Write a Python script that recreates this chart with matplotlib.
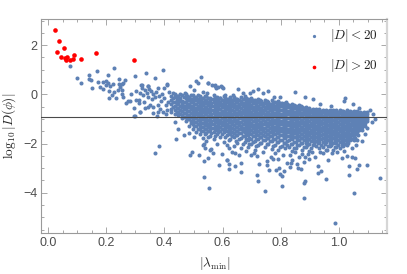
import numpy as np
import matplotlib
matplotlib.use("Agg")
import matplotlib.pyplot as plt
from matplotlib.ticker import MultipleLocator, FixedLocator, FuncFormatter

plt.rcParams['mathtext.fontset'] = 'cm'
plt.rcParams['font.family'] = ['Liberation Sans', 'DejaVu Sans']

BLUE = '#5E81B5'
GREY = '#9a9a9a'
TXT = '#4d4d4d'

threshold = -0.935

red_lam = [.022, .036, .053, .029, .043, .057, .065, .060, .074, .083, .088, .111, .164, .296]
red_log = [2.60, 2.15, 1.89, 1.72, 1.52, 1.46, 1.50, 1.38, 1.38, 1.42, 1.60, 1.42, 1.67, 1.39]

upper_pts = [
 (.073,1.16),(.099,.67),(.113,.46),(.139,.80),(.141,.62),(.146,.58),(.149,.27),(.166,.93),(.171,.49),(.178,.30),
 (.204,.77),(.227,1.07),(.242,.61),(.265,.58),(.255,.42),(.297,.74),(.335,.87),(.367,.65),(.395,1.0),(.408,.39),
 (.189,.22),(.189,.51),(.2,.54),(.206,.45),(.212,.34),(.198,.38),(.221,.42),(.209,.15),(.218,-.03),(.209,-.16),
 (.233,-.15),(.226,.11),(.241,.17),(.252,.17),(.243,.42),(.256,.45),(.247,.31),(.252,0),(.256,-.1),(.283,.01),
 (.267,-.34),(.273,-.26),(.281,-.26),(.294,-.57),(.297,-.89),(.314,-.72),(.301,-.23),(.302,.13),(.312,-.23),
 (.316,.04),(.321,.24),(.321,.38),(.344,.34),(.333,.17),(.339,.04),(.327,-.03),(.344,-.1),(.334,-.57),(.344,-.5),
 (.313,-.37),(.329,-.3),(.319,.38),(.344,.35),(.379,.24),(.399,.24),(.408,.41),(.43,.04),(.453,.01),(.471,.07),
 (.489,.35),(.507,.55),(.517,.47),(.525,.72),(.549,.47),(.563,.38),(.574,.34),(.594,.34),(.603,.24),(.503,.17),
 (.545,.04),(.578,.24),(.361,-.77),(.373,-.88),(.404,-.81),(.316,-.73),(.296,-.88),(.55,.47),(.574,.37),(.586,.28),
 (.597,.31),(.655,.2),(.722,.2),(.758,.13),(.741,.04),(.706,.13),(.851,.08),(.886,-.11),(.913,-.19),(1.022,-.16),
 (1.019,-.27),(1.051,-.41),(.973,-.48),(.936,-.41),(.798,-.1),(.778,-.12),(.819,-.3),(.637,-.03),(.672,.04),
 (.695,.04),(.626,-.1),(.61,-.02),(.59,-.15),(1.072,-.54),(1.109,-.64),(1.12,-.8),(1.126,-1.02),(1.114,-1.11),
 (.345,.21),(.352,.12),(.36,.02),(.356,-.2),(.366,-.12),(.372,.1),(.381,-.05),(.387,-.28),(.376,-.42),(.392,.02),
 (.398,-.16),(.404,-.45),(.386,-.6),(.396,-.7),(.412,-.3),(.416,.1),(.35,-.42),(.362,-.5),(.378,-.7),(.41,-.62),
]

lower_pts = [
 (.436,-1.11),(.448,-1.41),(.44,-1.83),(.468,-1.67),(.486,-1.59),(.5,-1.72),(.491,-1.18),(.367,-2.39),(.381,-2.09),
 (.489,-2.45),(.494,-2.35),(.52,-2.47),(.535,-2.70),(.549,-2.59),(.535,-3.36),(.552,-3.82),(.589,-2.86),(.597,-2.44),
 (.617,-2.67),(.622,-2.83),(.621,-3.04),(.643,-2.90),(.665,-2.79),(.663,-3.16),(.719,-3.28),(.724,-3.54),(.632,-2.33),
 (.644,-2.40),(.658,-2.47),(.566,-2.39),(.557,-2.25),(.537,-2.03),(.539,-2.18),(.697,-2.45),(.72,-2.49),(.727,-2.83),
 (.745,-3.94),(.752,-2.70),(.752,-2.89),(.762,-3.09),(.783,-3.06),(.795,-3.0),(.799,-3.23),(.806,-3.32),(.811,-3.13),
 (.805,-3.71),(.823,-2.79),(.832,-2.96),(.836,-2.81),(.856,-2.82),(.861,-2.98),(.872,-3.02),(.88,-2.76),(.88,-3.62),
 (.886,-3.51),(.88,-4.22),(.899,-2.63),(.919,-2.55),(.929,-2.93),(.93,-3.19),(.94,-3.11),(.958,-3.44),(.965,-2.66),
 (.988,-5.22),(1.035,-2.93),(1.037,-3.27),(1.052,-4.03),(1.064,-3.05),(1.07,-2.89),(1.097,-2.87),(1.143,-3.40),
 (1.013,-2.59),(1.028,-2.49),(1.045,-2.53),(1.057,-2.6),(1.08,-1.9),(1.06,-2.06),(.767,-2.54),(.775,-2.64),(.792,-2.64),
 (.833,-2.47),(.839,-2.67),(.865,-2.54),(.896,-2.44),(.884,-2.56),(.948,-2.40),(.979,-2.40),(1.097,-1.38),(1.092,-1.63),
 (1.068,-1.65),(1.063,-1.86),(.559,-2.24),(.534,-2.06),(.614,-2.67),(.622,-2.2),(.68,-2.3),(.71,-2.38),(.74,-2.36),
 (.78,-2.4),(.81,-2.45),(.85,-2.36),(.875,-2.42),(.91,-2.36),(.935,-2.34),(.96,-2.28),(.995,-2.34),(1.02,-2.3),(1.045,-2.2),
]

core_lam = [.424,.437,.448,.461,.473,.484,.497,.508,.521,.533,.544,.556,.569,.58,.592,.604,.616,.627,.64,.651,
            .663,.676,.687,.699,.711,.723,.734,.746,.758,.77,.781,.793,.805,.816,.829,.84,.852,.864,.875,.887,
            .899,.911,.922,.934,.946,.957,.97,.981,.993,1.005,1.016,1.028,1.04,1.052,1.063,1.075,1.087,1.098]
core_log = [
 [-.05,-.22,-.41,-.58,-.71],
 [.02,-.12,-.31,-.47,-.62,-.8],
 [-.08,-.19,-.36,-.55,-.7,-.86],
 [-.03,-.26,-.4,-.52,-.67,-.83,-.98],
 [.03,-.15,-.33,-.46,-.6,-.77,-.92,-1.08],
 [-.09,-.24,-.38,-.53,-.69,-.84,-1.0,-1.27],
 [-.02,-.18,-.31,-.47,-.62,-.75,-.9,-1.05,-1.22,-1.42],
 [-.1,-.25,-.41,-.55,-.68,-.82,-.97,-1.13,-1.3,-1.52],
 [-.05,-.2,-.34,-.5,-.63,-.79,-.93,-1.07,-1.24,-1.38,-1.62],
 [.1,-.14,-.3,-.44,-.58,-.72,-.87,-1.02,-1.18,-1.33,-1.49,-1.78],
 [-.06,-.22,-.37,-.53,-.66,-.8,-.95,-1.11,-1.26,-1.4,-1.58,-1.9],
 [-.13,-.28,-.42,-.56,-.71,-.85,-1.0,-1.14,-1.3,-1.47,-1.69],
 [-.02,-.19,-.33,-.48,-.63,-.76,-.91,-1.06,-1.21,-1.36,-1.52,-1.83],
 [-.1,-.25,-.39,-.53,-.68,-.83,-.97,-1.12,-1.27,-1.43,-1.6,-2.0],
 [-.16,-.3,-.45,-.6,-.74,-.88,-1.03,-1.18,-1.33,-1.48,-1.75],
 [-.07,-.22,-.37,-.51,-.66,-.8,-.94,-1.09,-1.24,-1.39,-1.55,-1.92],
 [-.2,-.32,-.47,-.61,-.75,-.9,-1.05,-1.19,-1.34,-1.5,-1.66,-2.07],
 [-.15,-.28,-.42,-.56,-.7,-.85,-.99,-1.14,-1.29,-1.44,-1.61,-1.8],
 [-.09,-.24,-.38,-.53,-.67,-.81,-.96,-1.1,-1.25,-1.4,-1.57,-1.72,-2.12],
 [-.17,-.31,-.46,-.6,-.75,-.89,-1.04,-1.18,-1.33,-1.49,-1.65,-1.96],
 [-.12,-.27,-.41,-.55,-.7,-.84,-.98,-1.13,-1.28,-1.43,-1.59,-1.78,-2.2],
 [-.06,-.21,-.36,-.5,-.64,-.79,-.93,-1.08,-1.22,-1.37,-1.53,-1.7,-1.95],
 [-.19,-.33,-.47,-.62,-.76,-.91,-1.05,-1.2,-1.35,-1.5,-1.66,-1.85,-2.14],
 [-.14,-.29,-.43,-.57,-.72,-.86,-1.01,-1.15,-1.3,-1.45,-1.62,-1.8,-2.02],
 [-.24,-.37,-.51,-.66,-.8,-.95,-1.09,-1.24,-1.39,-1.54,-1.71,-1.9,-2.25],
 [-.18,-.32,-.47,-.61,-.75,-.9,-1.04,-1.19,-1.33,-1.49,-1.64,-1.83,-2.08],
 [-.27,-.4,-.55,-.69,-.84,-.98,-1.12,-1.27,-1.42,-1.57,-1.75,-1.96],
 [-.22,-.36,-.5,-.64,-.79,-.93,-1.08,-1.22,-1.37,-1.52,-1.68,-1.87,-2.15],
 [-.31,-.43,-.57,-.72,-.86,-1.0,-1.15,-1.3,-1.44,-1.6,-1.77,-2.02],
 [-.25,-.38,-.52,-.67,-.81,-.96,-1.1,-1.25,-1.4,-1.55,-1.71,-1.9,-2.22],
 [-.33,-.46,-.6,-.74,-.89,-1.03,-1.18,-1.32,-1.47,-1.63,-1.8,-2.05],
 [-.29,-.42,-.56,-.7,-.85,-.99,-1.14,-1.28,-1.43,-1.58,-1.74,-1.94,-2.28],
 [-.37,-.49,-.63,-.78,-.92,-1.07,-1.21,-1.36,-1.5,-1.66,-1.84,-2.1],
 [-.34,-.46,-.6,-.74,-.89,-1.03,-1.18,-1.32,-1.47,-1.62,-1.78,-1.98,-2.2],
 [-.42,-.53,-.67,-.82,-.96,-1.11,-1.25,-1.4,-1.54,-1.7,-1.87,-2.14],
 [-.38,-.5,-.64,-.78,-.93,-1.07,-1.22,-1.36,-1.51,-1.66,-1.82,-2.02,-2.3],
 [-.46,-.57,-.71,-.85,-1.0,-1.14,-1.29,-1.43,-1.58,-1.74,-1.92,-2.18],
 [-.42,-.54,-.68,-.82,-.97,-1.11,-1.26,-1.4,-1.55,-1.7,-1.86,-2.07],
 [-.5,-.61,-.75,-.89,-1.04,-1.18,-1.33,-1.47,-1.62,-1.78,-1.96,-2.26],
 [-.52,-.63,-.77,-.91,-1.06,-1.2,-1.35,-1.49,-1.64,-1.8,-1.98,-2.16],
 [-.56,-.66,-.8,-.94,-1.09,-1.23,-1.38,-1.52,-1.67,-1.83,-2.02,-2.3],
 [-.58,-.68,-.82,-.97,-1.11,-1.26,-1.4,-1.55,-1.7,-1.86,-2.08],
 [-.6,-.7,-.84,-.99,-1.13,-1.28,-1.42,-1.57,-1.72,-1.89,-2.12],
 [-.61,-.72,-.86,-1.01,-1.15,-1.3,-1.44,-1.59,-1.75,-1.92,-2.2],
 [-.63,-.73,-.87,-1.02,-1.16,-1.31,-1.46,-1.6,-1.76,-1.94,-2.15],
 [-.62,-.74,-.88,-1.03,-1.17,-1.32,-1.46,-1.61,-1.77,-1.95,-2.25],
 [-.64,-.75,-.89,-1.04,-1.18,-1.33,-1.47,-1.62,-1.78,-1.96,-2.12],
 [-.63,-.76,-.9,-1.05,-1.19,-1.34,-1.48,-1.63,-1.79,-1.98,-2.27],
 [-.65,-.77,-.91,-1.06,-1.2,-1.35,-1.49,-1.64,-1.8,-1.97,-2.14],
 [-.64,-.77,-.91,-1.06,-1.2,-1.35,-1.49,-1.64,-1.79,-1.95,-2.18],
 [-.66,-.78,-.92,-1.06,-1.21,-1.35,-1.49,-1.63,-1.78,-1.93,-2.1],
 [-.65,-.78,-.92,-1.06,-1.2,-1.34,-1.48,-1.62,-1.76,-1.9,-2.06],
 [-.67,-.79,-.92,-1.06,-1.2,-1.33,-1.46,-1.6,-1.73,-1.87],
 [-.67,-.79,-.92,-1.05,-1.18,-1.31,-1.44,-1.56,-1.7,-1.84],
 [-.69,-.8,-.92,-1.04,-1.16,-1.28,-1.4,-1.52],
 [-.7,-.81,-.92,-1.03,-1.14,-1.26,-1.38],
 [-.71,-.81,-.91,-1.01,-1.12,-1.24],
 [-.73,-.82,-.92,-1.02,-1.1],
]

fill_lam = [.43,.442,.455,.467,.479,.49,.502,.515,.527,.539,.55,.562,.575,.586,.598,.61,.622,.634,.645,.657,
            .67,.681,.693,.705,.717,.729,.74,.752,.764,.775,.787,.799,.811,.823,.835,.846,.858,.87,.881,.893,
            .905,.917,.928,.94,.952,.964,.975,.987,.999,1.011,1.022,1.034,1.046,1.058,1.069,1.081,1.093]
fill_log = [
 [-.14,-.33,-.52],[-.06,-.25,-.4,-.55,-.72],[-.14,-.28,-.46,-.63,-.78],[-.12,-.33,-.46,-.6,-.75,-.91],
 [-.08,-.24,-.4,-.53,-.68,-.85,-1.0],[-.02,-.17,-.31,-.46,-.61,-.77,-.92,-1.1],[-.1,-.25,-.39,-.55,-.68,-.83,-.97,-1.14,-1.3],
 [-.02,-.17,-.33,-.48,-.61,-.75,-.9,-1.05,-1.22,-1.4],[-.13,-.27,-.42,-.57,-.71,-.86,-1.0,-1.15,-1.31,-1.5],
 [-.06,-.22,-.37,-.51,-.65,-.8,-.95,-1.1,-1.26,-1.41,-1.62],[-.14,-.3,-.45,-.6,-.73,-.88,-1.03,-1.19,-1.33,-1.49,-1.74],
 [-.2,-.35,-.49,-.64,-.78,-.93,-1.07,-1.22,-1.38,-1.58],[-.11,-.26,-.41,-.56,-.7,-.84,-.99,-1.14,-1.29,-1.44,-1.68],
 [-.18,-.32,-.46,-.61,-.76,-.9,-1.05,-1.2,-1.35,-1.52],[-.23,-.38,-.53,-.67,-.81,-.96,-1.11,-1.26,-1.41,-1.62],
 [-.15,-.3,-.44,-.59,-.73,-.87,-1.02,-1.17,-1.32,-1.47,-1.72],[-.26,-.4,-.54,-.68,-.83,-.98,-1.12,-1.27,-1.42,-1.58,-1.85],
 [-.22,-.35,-.49,-.63,-.78,-.92,-1.07,-1.22,-1.37,-1.53,-1.7],[-.17,-.31,-.46,-.6,-.74,-.89,-1.03,-1.18,-1.33,-1.49,-1.65,-1.9],
 [-.24,-.38,-.53,-.67,-.82,-.96,-1.11,-1.26,-1.41,-1.57,-1.8],[-.2,-.34,-.48,-.63,-.77,-.91,-1.06,-1.2,-1.36,-1.51,-1.69,-2.0],
 [-.14,-.28,-.43,-.57,-.72,-.86,-1.0,-1.15,-1.3,-1.45,-1.62,-1.82],[-.26,-.4,-.54,-.69,-.83,-.98,-1.12,-1.28,-1.43,-1.58,-1.76,-2.02],
 [-.22,-.36,-.5,-.65,-.79,-.93,-1.08,-1.23,-1.38,-1.54,-1.71,-1.92],[-.31,-.44,-.58,-.73,-.87,-1.02,-1.17,-1.32,-1.47,-1.63,-1.8,-2.1],
 [-.25,-.39,-.54,-.68,-.82,-.97,-1.12,-1.26,-1.41,-1.57,-1.74,-1.97],[-.34,-.47,-.62,-.76,-.91,-1.05,-1.2,-1.35,-1.5,-1.66,-1.85],
 [-.29,-.43,-.57,-.72,-.86,-1.0,-1.15,-1.3,-1.45,-1.6,-1.78,-2.02],[-.38,-.5,-.65,-.79,-.93,-1.08,-1.22,-1.37,-1.52,-1.69,-1.9],
 [-.32,-.45,-.59,-.74,-.88,-1.03,-1.18,-1.32,-1.48,-1.63,-1.81,-2.1],[-.4,-.53,-.67,-.82,-.96,-1.11,-1.25,-1.4,-1.55,-1.72,-1.93],
 [-.36,-.49,-.63,-.78,-.92,-1.07,-1.21,-1.36,-1.51,-1.66,-1.84,-2.16],[-.44,-.56,-.7,-.85,-.99,-1.14,-1.28,-1.43,-1.58,-1.75,-1.97],
 [-.41,-.53,-.67,-.82,-.96,-1.11,-1.25,-1.4,-1.55,-1.7,-1.88,-2.08],[-.49,-.6,-.75,-.89,-1.03,-1.18,-1.33,-1.47,-1.62,-1.79,-2.02],
 [-.45,-.57,-.71,-.85,-1.0,-1.15,-1.29,-1.44,-1.59,-1.74,-1.93,-2.2],[-.53,-.64,-.78,-.92,-1.07,-1.21,-1.36,-1.5,-1.65,-1.82,-2.04],
 [-.49,-.61,-.75,-.89,-1.04,-1.18,-1.33,-1.47,-1.62,-1.78,-1.96],[-.57,-.68,-.82,-.96,-1.11,-1.25,-1.4,-1.54,-1.7,-1.87,-2.14],
 [-.59,-.7,-.84,-.98,-1.13,-1.27,-1.42,-1.56,-1.71,-1.88,-2.07],[-.62,-.72,-.87,-1.01,-1.16,-1.3,-1.45,-1.59,-1.74,-1.91,-2.2],
 [-.63,-.75,-.89,-1.04,-1.18,-1.33,-1.47,-1.62,-1.78,-1.96],[-.65,-.77,-.91,-1.06,-1.2,-1.35,-1.49,-1.64,-1.8,-1.98],
 [-.66,-.79,-.93,-1.08,-1.22,-1.37,-1.51,-1.66,-1.83,-2.05],[-.68,-.8,-.94,-1.09,-1.23,-1.38,-1.53,-1.68,-1.85,-2.03],
 [-.67,-.81,-.95,-1.1,-1.24,-1.39,-1.53,-1.69,-1.86,-2.12],[-.69,-.82,-.96,-1.11,-1.25,-1.4,-1.54,-1.7,-1.87,-2.05],
 [-.68,-.83,-.97,-1.12,-1.26,-1.41,-1.55,-1.71,-1.88,-2.16],[-.7,-.84,-.98,-1.13,-1.27,-1.42,-1.56,-1.71,-1.87,-2.05],
 [-.69,-.84,-.98,-1.13,-1.27,-1.42,-1.56,-1.71,-1.86,-2.08],[-.71,-.85,-.99,-1.13,-1.28,-1.42,-1.56,-1.7,-1.85,-2.02],
 [-.7,-.85,-.99,-1.13,-1.27,-1.41,-1.55,-1.69,-1.83,-1.97],[-.72,-.85,-.99,-1.13,-1.26,-1.39,-1.53,-1.66,-1.8],
 [-.73,-.85,-.98,-1.12,-1.25,-1.37,-1.5,-1.63,-1.77],[-.75,-.86,-.98,-1.1,-1.22,-1.34,-1.46],
 [-.76,-.87,-.98,-1.09,-1.2,-1.32,-1.44],[-.77,-.86,-.96,-1.07,-1.18,-1.3],
]

W, H = 407, 274
fig = plt.figure(figsize=(W/100, H/100), dpi=100)
L, R, T, B = 41.3, 387.0, 19.3, 233.3
ax = fig.add_axes([L/W, 1-B/H, (R-L)/W, (B-T)/H])

ax.set_xlim(-0.0248, 1.1672)
ax.set_ylim(-5.65, 3.05)

ms = 8.5
for lams, logs in ((core_lam, core_log), (fill_lam, fill_log)):
    xs = [lam for lam, ys in zip(lams, logs) for _ in ys]
    ys_flat = [y for ys in logs for y in ys]
    ax.scatter(xs, ys_flat, s=ms, color=BLUE, linewidths=0, zorder=2)
for pts in (upper_pts, lower_pts):
    a = np.array(pts)
    ax.scatter(a[:, 0], a[:, 1], s=ms, color=BLUE, linewidths=0, zorder=2)
ax.scatter(red_lam, red_log, s=11, color='#FF0000', linewidths=0, zorder=3)
ax.axhline(threshold, color='#4a4a4a', lw=0.8, zorder=4)

ax.xaxis.set_major_locator(MultipleLocator(0.2))
ax.xaxis.set_minor_locator(MultipleLocator(0.05))
ax.yaxis.set_major_locator(MultipleLocator(2))
ax.yaxis.set_minor_locator(MultipleLocator(0.5))
ax.xaxis.set_major_formatter(FuncFormatter(lambda v, p: f'{v:.1f}'))
ax.yaxis.set_major_formatter(FuncFormatter(lambda v, p: f'{v:.0f}'.replace('-', '\u2212')))
ax.tick_params(which='major', direction='in', length=4.2, width=0.6, color=GREY,
               top=True, right=True, labelsize=9, labelcolor=TXT, pad=3)
ax.tick_params(which='minor', direction='in', length=2.2, width=0.6, color=GREY, top=True, right=True)
for s in ax.spines.values():
    s.set_color(GREY)
    s.set_linewidth(0.8)
ax.spines['right'].set_color('#d6d6d6')
ax.spines['right'].set_linewidth(1.6)

def px(x, y):
    return x/W, 1-y/H

lg_x = 313.7
ax.scatter([(lg_x-L)/(R-L)], [1-(36.3-T)/(B-T)], s=5.5, color=BLUE, linewidths=0,
           transform=ax.transAxes, zorder=5)
ax.scatter([(lg_x-L)/(R-L)], [1-(67.3-T)/(B-T)], s=7, color='#FF0000', linewidths=0,
           transform=ax.transAxes, zorder=5)
fig.text(*px(330.5, 35.5), r'$|D|<20$', fontsize=9.5, color='#222222', ha='left', va='center')
fig.text(*px(330.5, 66), r'$|D|>20$', fontsize=9.5, color='#222222', ha='left', va='center')
fig.text(*px(215, 263.5), r'$|\lambda_{\min}|$', fontsize=9.5, color='#222222', ha='center', va='center')
fig.text(*px(9.5, 126), r'$\log_{10}|D(\phi)|$', fontsize=9.5, color='#222222', rotation=90, ha='center', va='center')

fig.savefig('out.png', dpi=100)
